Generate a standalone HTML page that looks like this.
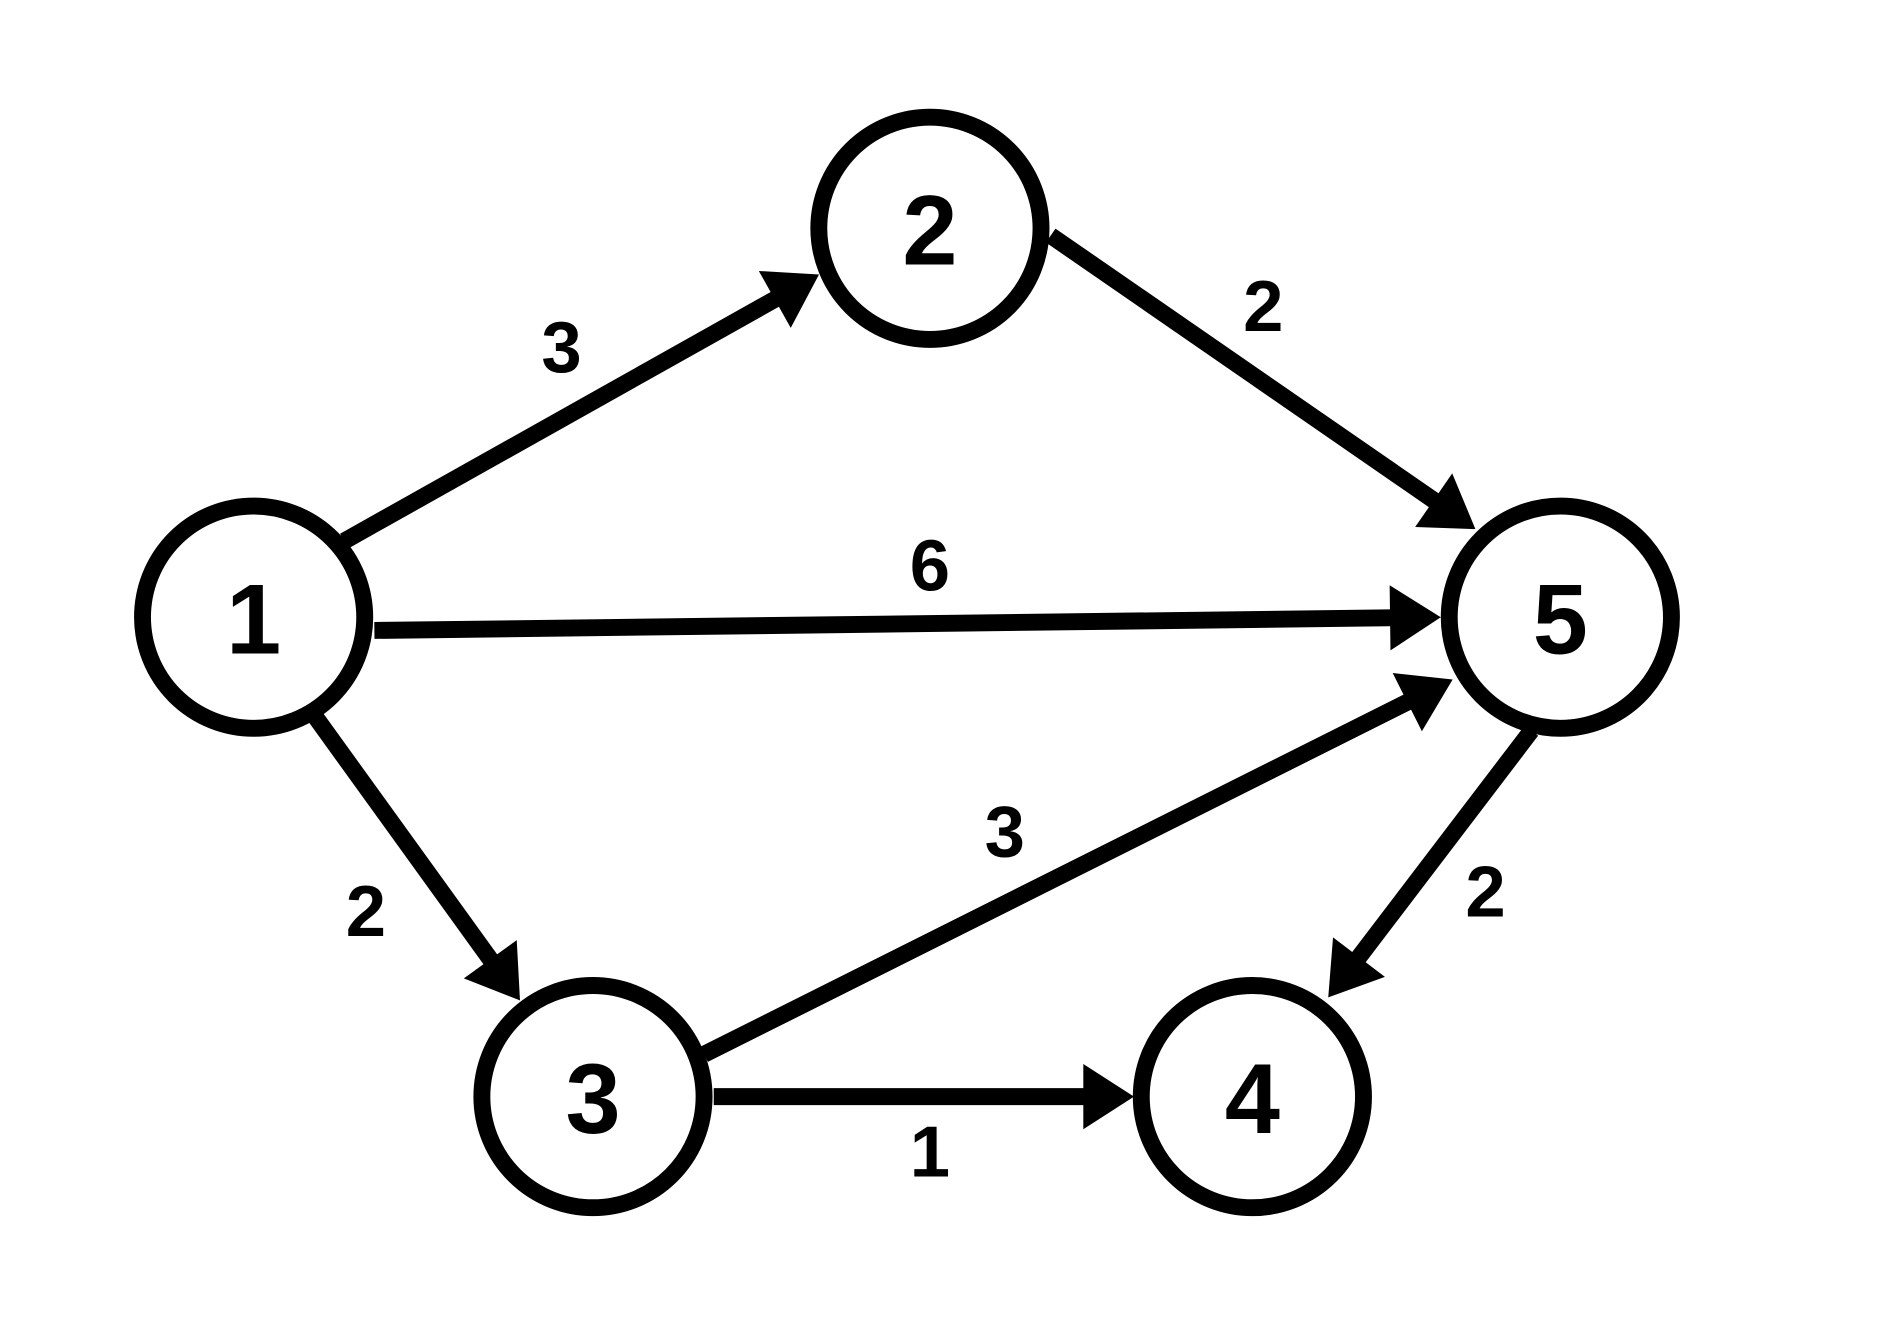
<!DOCTYPE html>
<html><head><meta charset="utf-8"><style>html,body{margin:0;padding:0;background:#fff}svg{display:block}</style></head>
<body>
<svg width="1884" height="1340" viewBox="0 0 1560 1109.5" xmlns="http://www.w3.org/2000/svg">
<defs>
<marker id="a" markerUnits="userSpaceOnUse" markerWidth="60" markerHeight="60" refX="12" refY="27" orient="auto" overflow="visible">
<path d="M0,0 L42,27 L0,54 z" fill="#000"/>
</marker>
</defs>
<g stroke="#000" stroke-width="14" fill="none">
<line x1="285" y1="448" x2="652" y2="242" marker-end="url(#a)"/>
<line x1="870" y1="195" x2="1197" y2="421" marker-end="url(#a)"/>
<line x1="310" y1="522" x2="1163" y2="511.4" marker-end="url(#a)"/>
<line x1="583" y1="873" x2="1176" y2="576" marker-end="url(#a)"/>
<line x1="260" y1="592" x2="413" y2="804" marker-end="url(#a)"/>
<line x1="591" y1="908" x2="909" y2="908" marker-end="url(#a)"/>
<line x1="1268" y1="605" x2="1118" y2="802" marker-end="url(#a)"/>
</g>
<g stroke="#000" stroke-width="14" fill="#fff">
<circle cx="210" cy="511" r="92"/>
<circle cx="770" cy="189" r="92"/>
<circle cx="491" cy="908" r="92"/>
<circle cx="1037" cy="908" r="92"/>
<circle cx="1292" cy="511" r="92"/>
</g>
<g font-family="Liberation Sans, sans-serif" font-weight="bold" font-size="82" text-anchor="middle" fill="#000">
<text x="210" y="541">1</text>
<text x="770" y="219">2</text>
<text x="491" y="938">3</text>
<text x="1037" y="938">4</text>
<text x="1292" y="541">5</text>
</g>
<g font-family="Liberation Sans, sans-serif" font-weight="bold" font-size="60" text-anchor="middle" fill="#000">
<text x="465" y="308">3</text>
<text x="1046" y="274">2</text>
<text x="770" y="489">6</text>
<text x="832" y="709">3</text>
<text x="303" y="775">2</text>
<text x="770" y="974">1</text>
<text x="1230" y="759">2</text>
</g>
</svg>
</body></html>
